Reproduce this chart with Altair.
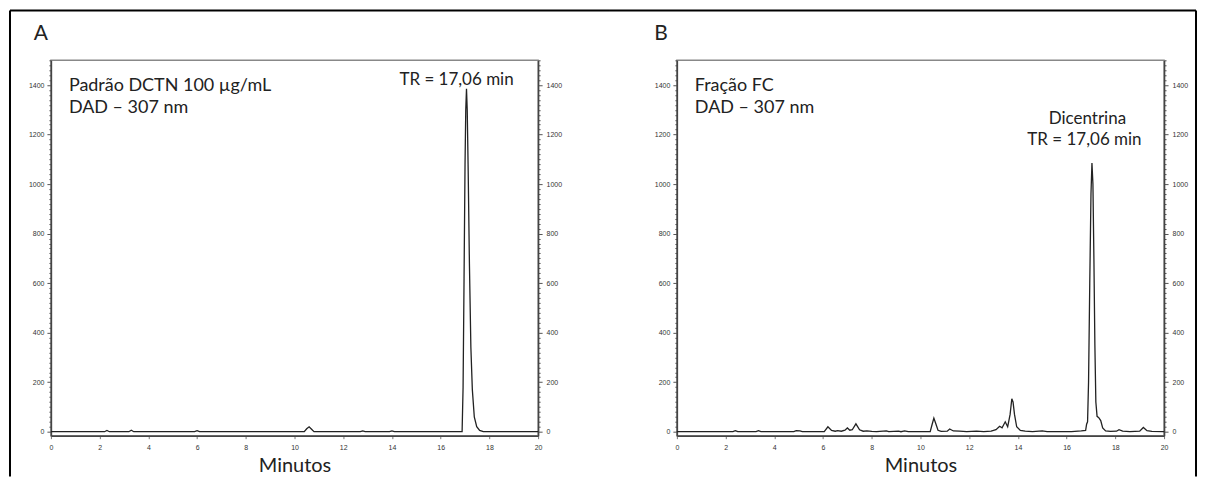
import altair as alt
import pandas as pd

# ---------------- data ----------------
# Panel A: standard (DCTN 100 ug/mL)
a_time = [0, 1.0, 2.2, 2.3, 2.4, 3.2, 3.3, 3.4, 5.9, 6.0, 6.1, 8.0,
          10.4, 10.5, 10.6, 10.7, 10.8, 12.7, 12.8, 12.9, 13.9, 14.0, 14.1, 16.0,
          16.88, 16.92, 16.96, 17.0, 17.03, 17.06, 17.09, 17.13, 17.18, 17.24, 17.3,
          17.38, 17.48, 17.6, 17.75, 19.0, 20.0]
a_signal = [0, 0, 0, 5, 0, 0, 6, 0, 0, 4, 0, 0,
            0, 12, 20, 10, 0, 0, 3, 0, 0, 3, 0, 0,
            0, 180, 620, 1080, 1300, 1385, 1300, 1050, 680, 340, 170,
            60, 20, 5, 0, 0, 0]

# Panel B: fraction FC
b_time = [0, 1.5, 2.3, 2.4, 2.5, 3.25, 3.35, 3.45, 4.8, 4.9, 5.05, 5.15,
          6.05, 6.2, 6.35, 6.5, 6.6, 6.75, 6.9, 7.0, 7.1, 7.2, 7.35, 7.5, 7.65, 7.8,
          8.0, 8.2, 8.6, 8.7, 9.1, 9.2, 9.35, 9.5,
          10.4, 10.48, 10.55, 10.62, 10.72, 10.85, 11.1, 11.2, 11.35, 11.6, 11.9,
          12.3, 12.6, 12.9, 13.1, 13.25, 13.35, 13.48, 13.58, 13.68, 13.75, 13.8,
          13.86, 13.95, 14.1, 14.3, 14.6, 15.0, 15.2, 16.2, 16.6, 16.78, 16.82,
          16.86, 16.9, 16.95, 17.0, 17.04, 17.08, 17.12, 17.16, 17.2, 17.25, 17.32,
          17.4, 17.48, 17.6, 17.8, 18.05, 18.15, 18.3, 18.6, 19.0, 19.15, 19.3,
          19.5, 20.0]
b_signal = [0, 0, 0, 4, 0, 0, 4, 0, 0, 4, 3, 0,
            0, 20, 5, 2, 4, 2, 6, 15, 6, 8, 32, 8, 2, 3,
            1, 0, 3, 0, 2, 0, 3, 0,
            0, 30, 55, 35, 6, 1, 2, 11, 3, 2, 0,
            2, 0, 2, 8, 22, 16, 40, 20, 70, 133, 120,
            70, 20, 5, 2, 0, 3, 0, 0, 3, 5, 30,
            40, 200, 600, 960, 1085, 1000, 700, 350, 120, 62, 57,
            45, 15, 3, 1, 2, 8, 2, 0, 2, 17, 4,
            1, 0]
assert len(a_time) == len(a_signal)
assert len(b_time) == len(b_signal)

panel_letters = ["A", "B"]
a_notes = ["Padrão DCTN 100 µg/mL", "DAD – 307 nm"]
b_notes = ["Fração FC", "DAD – 307 nm"]
a_peak_labels = ["TR = 17,06 min"]
b_peak_labels = ["Dicentrina", "TR = 17,06 min"]
peak_time = 17.06
x_title = "Minutos"

x_domain = [0, 20]
y_domain = [-16, 1500]
x_ticks = [i * 0.5 for i in range(41)]
y_ticks = list(range(0, 1501, 20))

# ---------------- layout ----------------
W, H = 488, 376
FONT = "Lato"
TXT = "#222222"


def y_axis(orient, pad):
    return alt.Axis(
        orient=orient, values=y_ticks, format="d",
        labelExpr="datum.value % 200 === 0 ? datum.label : ''",
        tickSize={"condition": {"test": "datum.value % 200 === 0", "value": 4}, "value": 2},
        grid=False, title=None, labelFont="Liberation Sans", labelFontSize=7,
        labelColor="#333333", labelPadding=pad, labelOverlap=False, labelFlush=False,
        domainColor="#444444", domainWidth=1.5, tickColor="#555555", tickWidth=1,
    )


x_axis = alt.Axis(
    values=x_ticks, format="d",
    labelExpr="datum.value % 2 === 0 ? datum.label : ''",
    tickSize={"condition": {"test": "datum.value % 2 === 0", "value": 3}, "value": 2},
    grid=False, title=x_title, titleFont=FONT, titleFontSize=20, titleFontWeight="normal",
    titleColor=TXT, titlePadding=5, labelFont="Liberation Sans", labelFontSize=7,
    labelColor="#333333", labelPadding=5, labelOverlap=False, labelFlush=False,
    domainColor="#444444", domainWidth=1.5, tickColor="#777777", tickWidth=1,
)


def text_layer(label, x, y, size, align="center", dx=0, datum_x=False):
    df = pd.DataFrame({"label": [label]})
    xenc = alt.datum(x) if datum_x else alt.value(x)
    return alt.Chart(df).mark_text(
        font=FONT, fontSize=size, color=TXT, align=align, baseline="middle", dx=dx
    ).encode(x=xenc, y=alt.value(y), text="label:N")


def rule_layer(x, y, x2=None, y2=None):
    df = pd.DataFrame({"k": [0]})
    enc = dict(x=alt.value(x), y=alt.value(y))
    if x2 is not None:
        enc["x2"] = alt.value(x2)
    if y2 is not None:
        enc["y2"] = alt.value(y2)
    return alt.Chart(df).mark_rule(color="black", strokeWidth=2).encode(**enc)


def panel(time, signal, letter, letter_x, notes, peak_layers, frame_layers):
    df = pd.DataFrame({"t": time, "v": signal})
    xs = alt.Scale(domain=x_domain, nice=False, zero=False)
    ys = alt.Scale(domain=y_domain, nice=False, zero=False)
    line = alt.Chart(df).mark_line(color="#222222", strokeWidth=1.3).encode(
        x=alt.X("t:Q", scale=xs, axis=x_axis),
        y=alt.Y("v:Q", scale=ys, axis=y_axis("left", 3)),
    )
    line_r = alt.Chart(df).mark_line(opacity=0).encode(
        x=alt.X("t:Q", scale=xs, axis=x_axis),
        y=alt.Y("v:Q", scale=ys, axis=y_axis("right", 4)),
    )
    layers = [line, line_r]
    layers.append(text_layer(letter, letter_x, -26, 21))
    layers.append(text_layer(notes[0], 18, 26, 18, align="left"))
    layers.append(text_layer(notes[1], 18, 48, 18, align="left"))
    layers += peak_layers
    layers += frame_layers
    return alt.layer(*layers).resolve_axis(y="independent").properties(width=W, height=H)


pa = panel(
    a_time, a_signal, panel_letters[0], -10, a_notes,
    [text_layer(a_peak_labels[0], peak_time, 20, 17, dx=-10, datum_x=True)],
    [rule_layer(-41, -50, x2=560), rule_layer(-41, -50, y2=417)],
)
pb = panel(
    b_time, b_signal, panel_letters[1], -16, b_notes,
    [text_layer(b_peak_labels[0], peak_time, 59, 17, dx=-5, datum_x=True),
     text_layer(b_peak_labels[1], peak_time, 80, 17, dx=-8, datum_x=True)],
    [rule_layer(-67, -50, x2=520), rule_layer(520, -50, y2=417)],
)

chart = alt.hconcat(pa, pb, spacing=-4).properties(padding=0).configure_view(
    stroke="#888888", strokeWidth=1.5
)

chart.save("out.html", embed_options={"renderer": "svg", "actions": False})
